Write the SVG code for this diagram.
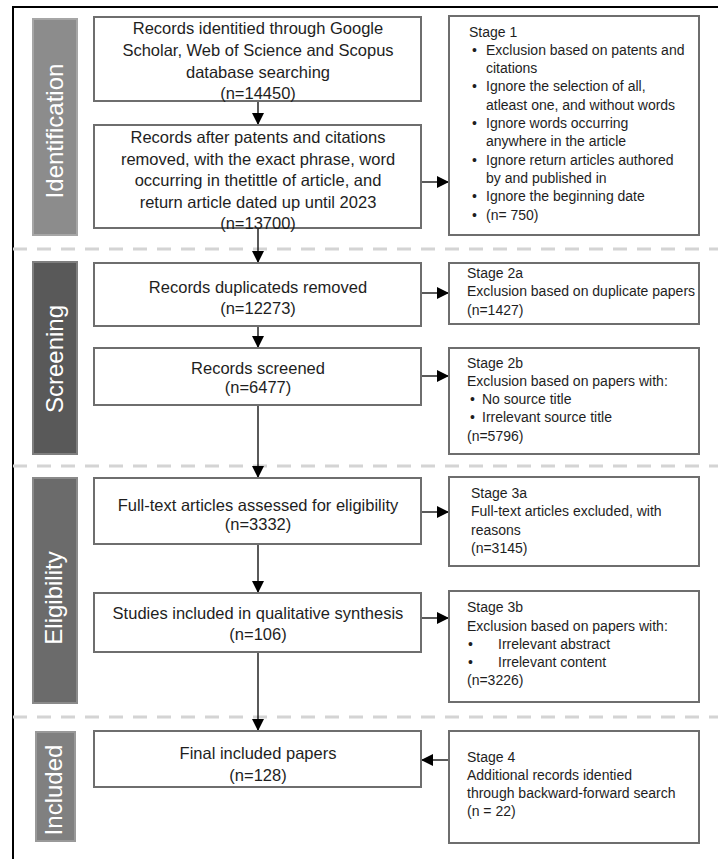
<svg xmlns="http://www.w3.org/2000/svg" width="718" height="859" viewBox="0 0 718 859">
<defs>
<marker id="ah" viewBox="0 0 12 12" refX="12" refY="6" markerWidth="12" markerHeight="12" markerUnits="userSpaceOnUse" orient="auto">
<path d="M0,0 L12,6 L0,12 Z" fill="#000"/>
</marker>
</defs>
<style>
.frame{stroke:#000;stroke-width:2;fill:none}
.sep{stroke:#d4d4d4;stroke-width:3;stroke-dasharray:14 10;fill:none}
.box{fill:#fff;stroke:#6e6e6e;stroke-width:2}
.bar{stroke-width:2}
.phase{font-family:"Liberation Sans",Arial,sans-serif;font-size:24px;fill:#fff;text-anchor:middle}
.mt{font-family:"Liberation Sans",Arial,sans-serif;font-size:16.5px;fill:#1e1e1e;text-anchor:middle}
.st{font-family:"Liberation Sans",Arial,sans-serif;font-size:14px;fill:#1e1e1e}
.conn{stroke:#000;stroke-width:1.3;fill:none;marker-end:url(#ah)}
</style>
<rect width="718" height="859" fill="#fff"/>
<g id="frame">
<line class="frame" x1="13" y1="7" x2="718" y2="7"/>
<line class="frame" x1="13" y1="6" x2="13" y2="859"/>
</g>
<g id="separators">
<line class="sep" x1="13" y1="249" x2="718" y2="249"/>
<line class="sep" x1="13" y1="466" x2="718" y2="466"/>
<line class="sep" x1="13" y1="717" x2="718" y2="717"/>
</g>
<g id="phase-identification">
<rect class="bar" x="33" y="19" width="44" height="216" fill="#8c8c8c" stroke="#a6a6a6"/>
<text class="phase" transform="translate(63,131) rotate(-90)">Identification</text>
</g>
<g id="phase-screening">
<rect class="bar" x="33" y="262" width="44" height="192" fill="#595959" stroke="#7f7f7f"/>
<text class="phase" transform="translate(63,359) rotate(-90)">Screening</text>
</g>
<g id="phase-eligibility">
<rect class="bar" x="33" y="478" width="44" height="225" fill="#6b6b6b" stroke="#8a8a8a"/>
<text class="phase" transform="translate(62,598) rotate(-90)">Eligibility</text>
</g>
<g id="phase-included">
<rect class="bar" x="36" y="732" width="39" height="109" fill="#808080" stroke="#999"/>
<text class="phase" transform="translate(62,790) rotate(-90)">Included</text>
</g>
<g id="connectors">
<line class="conn" x1="258" y1="101" x2="258" y2="125"/>
<line class="conn" x1="258" y1="228" x2="258" y2="263"/>
<line class="conn" x1="258" y1="326" x2="258" y2="348"/>
<line class="conn" x1="258" y1="405" x2="258" y2="478"/>
<line class="conn" x1="258" y1="544" x2="258" y2="593"/>
<line class="conn" x1="258" y1="652" x2="258" y2="731"/>
<line class="conn" x1="421" y1="182" x2="449" y2="182"/>
<line class="conn" x1="421" y1="293" x2="449" y2="293"/>
<line class="conn" x1="421" y1="376" x2="449" y2="376"/>
<line class="conn" x1="421" y1="512" x2="449" y2="512"/>
<line class="conn" x1="421" y1="618" x2="449" y2="618"/>
<line class="conn" x1="449" y1="760" x2="421" y2="760"/>
</g>
<g id="records-identified">
<rect class="box" x="94" y="17" width="327" height="84"/>
<text class="mt" x="258" y="34">Records identitied through  Google</text>
<text class="mt" x="258" y="56">Scholar, Web of Science and Scopus</text>
<text class="mt" x="258" y="78">database searching</text>
<text class="mt" x="258" y="98.5">(n=14450)</text>
</g>
<g id="records-after-patents">
<rect class="box" x="94" y="125" width="327" height="103"/>
<text class="mt" x="258" y="143">Records after patents and citations</text>
<text class="mt" x="258" y="164.5">removed, with the exact phrase, word</text>
<text class="mt" x="258" y="186">occurring in thetittle of article, and</text>
<text class="mt" x="258" y="207.5">return article dated up until 2023</text>
<text class="mt" x="258" y="229">(n=13700)</text>
</g>
<g id="stage1">
<rect class="box" x="449" y="16" width="250" height="219"/>
<text class="st" x="469" y="36.5">Stage 1</text>
<text class="st" x="472" y="54.8">•</text><text class="st" x="486" y="54.8">Exclusion based on patents and</text>
<text class="st" x="486" y="73.1">citations</text>
<text class="st" x="472" y="91.4">•</text><text class="st" x="486" y="91.4">Ignore the selection of all,</text>
<text class="st" x="486" y="109.7">atleast one, and without words</text>
<text class="st" x="472" y="128">•</text><text class="st" x="486" y="128">Ignore words occurring</text>
<text class="st" x="486" y="146.3">anywhere in the article</text>
<text class="st" x="472" y="164.6">•</text><text class="st" x="486" y="164.6">Ignore return articles authored</text>
<text class="st" x="486" y="182.9">by and published  in</text>
<text class="st" x="472" y="201.2">•</text><text class="st" x="486" y="201.2">Ignore the beginning date</text>
<text class="st" x="472" y="219.5">•</text><text class="st" x="486" y="219.5">(n= 750)</text>
</g>
<g id="duplicates-removed">
<rect class="box" x="94" y="263" width="327" height="63"/>
<text class="mt" x="258" y="293">Records duplicateds removed</text>
<text class="mt" x="258" y="314">(n=12273)</text>
</g>
<g id="stage2a">
<rect class="box" x="449" y="263" width="250" height="61"/>
<text class="st" x="467" y="277.5">Stage 2a</text>
<text class="st" x="467" y="296">Exclusion based on duplicate papers</text>
<text class="st" x="467" y="314.5">(n=1427)</text>
</g>
<g id="records-screened">
<rect class="box" x="94" y="348" width="327" height="57"/>
<text class="mt" x="258" y="374">Records screened</text>
<text class="mt" x="258" y="393">(n=6477)</text>
</g>
<g id="stage2b">
<rect class="box" x="449" y="348" width="250" height="106"/>
<text class="st" x="467" y="367.5">Stage 2b</text>
<text class="st" x="467" y="386">Exclusion based on papers  with:</text>
<text class="st" x="470" y="404">•</text><text class="st" x="482" y="404">No source title</text>
<text class="st" x="470" y="422">•</text><text class="st" x="482" y="422">Irrelevant source title</text>
<text class="st" x="467" y="440.5">(n=5796)</text>
</g>
<g id="full-text-assessed">
<rect class="box" x="94" y="478" width="327" height="66"/>
<text class="mt" x="258" y="511">Full-text articles assessed for eligibility</text>
<text class="mt" x="258" y="530">(n=3332)</text>
</g>
<g id="stage3a">
<rect class="box" x="449" y="477" width="250" height="89"/>
<text class="st" x="471" y="497.5">Stage 3a</text>
<text class="st" x="471" y="516">Full-text articles excluded, with</text>
<text class="st" x="471" y="534.5">reasons</text>
<text class="st" x="471" y="552.5">(n=3145)</text>
</g>
<g id="studies-included">
<rect class="box" x="94" y="593" width="327" height="59"/>
<text class="mt" x="258" y="619">Studies included in qualitative synthesis</text>
<text class="mt" x="258" y="640">(n=106)</text>
</g>
<g id="stage3b">
<rect class="box" x="449" y="591" width="250" height="111"/>
<text class="st" x="467" y="612">Stage 3b</text>
<text class="st" x="467" y="630.5">Exclusion based on papers with:</text>
<text class="st" x="468" y="649">•</text><text class="st" x="498" y="649">Irrelevant abstract</text>
<text class="st" x="468" y="667">•</text><text class="st" x="498" y="667">Irrelevant content</text>
<text class="st" x="467" y="685">(n=3226)</text>
</g>
<g id="final-included">
<rect class="box" x="94" y="731" width="327" height="56"/>
<text class="mt" x="258" y="759">Final included papers</text>
<text class="mt" x="258" y="781">(n=128)</text>
</g>
<g id="stage4">
<rect class="box" x="449" y="731" width="250" height="112"/>
<text class="st" x="467" y="761.5">Stage 4</text>
<text class="st" x="467" y="779.5">Additional records identied</text>
<text class="st" x="467" y="797.5">through backward-forward search</text>
<text class="st" x="467" y="816">(n = 22)</text>
</g>
</svg>
